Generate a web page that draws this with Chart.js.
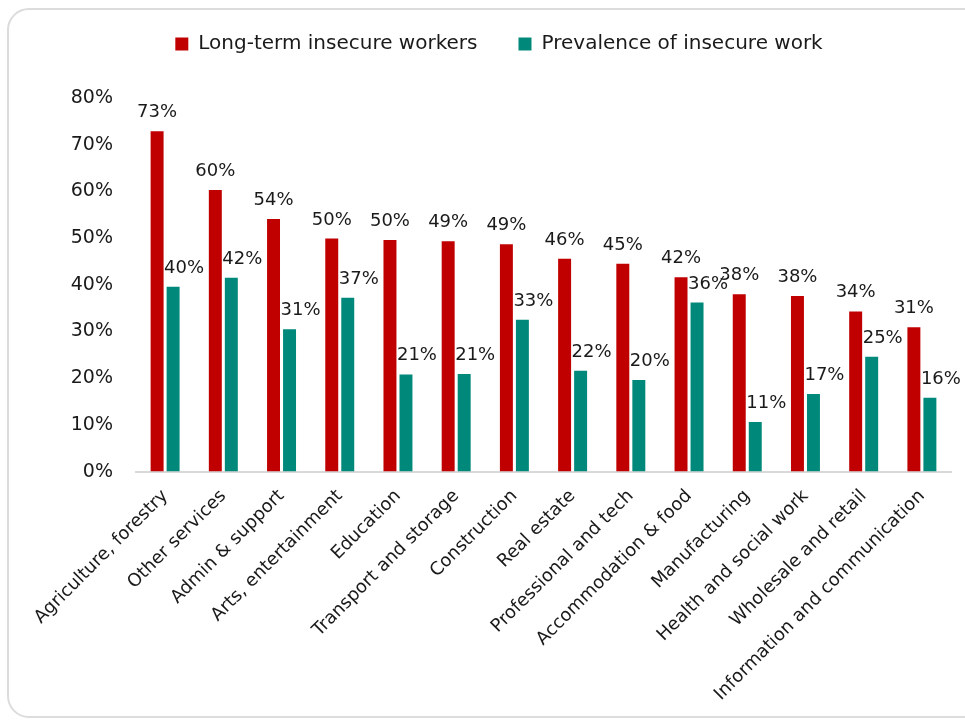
<!DOCTYPE html>
<html>
<head>
<meta charset="utf-8">
<script src="https://cdn.jsdelivr.net/npm/chart.js@4.4.1/dist/chart.umd.min.js"></script>
<style>
  html, body { margin: 0; padding: 0; background: #fff; }
  #wrap { position: relative; width: 965px; height: 725px; overflow: hidden; }
  #frame {
    position: absolute; left: 7px; top: 8px; width: 980px; height: 710px;
    border: 2px solid #dcdcdc; border-radius: 22px; box-sizing: border-box;
  }
  #c { position: absolute; left: 0; top: 0; }
</style>
</head>
<body>
<div id="wrap">
  <div id="frame"></div>
  <canvas id="c" width="965" height="725"></canvas>
</div>
<script>
const categories = [
  'Agriculture, forestry', 'Other services', 'Admin & support', 'Arts, entertainment',
  'Education', 'Transport and storage', 'Construction', 'Real estate',
  'Professional and tech', 'Accommodation & food', 'Manufacturing',
  'Health and social work', 'Wholesale and retail', 'Information and communication'
];
const longTermInsecure = [72.9, 60.3, 54.1, 49.9, 49.6, 49.3, 48.7, 45.6, 44.5, 41.6, 38.0, 37.6, 34.3, 30.9];
const prevalenceInsecure = [39.6, 41.5, 30.5, 37.2, 20.8, 20.9, 32.5, 21.6, 19.6, 36.2, 10.6, 16.6, 24.6, 15.8];
const yTicks = [0, 10, 20, 30, 40, 50, 60, 70, 80];

const RED = '#c00000';
const TEAL = '#00897b';

// value labels above each bar
const barLabels = {
  id: 'barLabels',
  afterDatasetsDraw(chart) {
    const ctx = chart.ctx;
    ctx.save();
    ctx.font = '18px "DejaVu Sans"';
    ctx.fillStyle = '#1a1a1a';
    ctx.textAlign = 'center';
    ctx.textBaseline = 'alphabetic';
    chart.data.datasets.forEach((ds, i) => {
      const meta = chart.getDatasetMeta(i);
      const dx = i === 1 ? 11 : 0;
      meta.data.forEach((bar, j) => {
        ctx.fillText(Math.round(ds.data[j]) + '%', bar.x + dx, bar.y - 14);
      });
    });
    ctx.restore();
  }
};

// extra room between legend and plot
const legendGap = {
  id: 'legendGap',
  beforeLayout(chart) {
    const lg = chart.legend;
    if (!lg || lg._gapPatched) return;
    const fit = lg.fit;
    lg.fit = function () { fit.call(this); this.height += 34; };
    lg._gapPatched = true;
  }
};

new Chart(document.getElementById('c'), {
  type: 'bar',
  data: {
    labels: categories,
    datasets: [
      { label: 'Long-term insecure workers', data: longTermInsecure, backgroundColor: RED,
        categoryPercentage: 0.55, barPercentage: 0.81 },
      { label: 'Prevalence of insecure work', data: prevalenceInsecure, backgroundColor: TEAL,
        categoryPercentage: 0.55, barPercentage: 0.81 }
    ]
  },
  options: {
    responsive: false,
    animation: false,
    layout: { padding: { left: 47, right: 14, top: -7, bottom: 6 } },
    plugins: {
      legend: {
        position: 'top',
        labels: {
          boxWidth: 13, boxHeight: 13, padding: 41, color: '#1a1a1a',
          font: { family: 'DejaVu Sans', size: 20 }
        }
      },
      tooltip: { enabled: false }
    },
    scales: {
      x: {
        grid: { display: false, drawTicks: false },
        border: { display: true, color: '#d9d9d9', width: 2 },
        ticks: {
          color: '#1a1a1a', maxRotation: 45, minRotation: 45, padding: 14,
          font: { family: 'DejaVu Sans', size: 18 }
        }
      },
      y: {
        min: 0, max: 80,
        afterFit(scale) { scale.width = 89; },
        afterBuildTicks(scale) { scale.ticks = yTicks.map(v => ({ value: v })); },
        grid: { display: false, drawTicks: false },
        border: { display: false },
        ticks: {
          color: '#1a1a1a', padding: 23,
          font: { family: 'DejaVu Sans', size: 19 },
          callback: v => v + '%'
        }
      }
    }
  },
  plugins: [legendGap, barLabels]
});
</script>
</body>
</html>
